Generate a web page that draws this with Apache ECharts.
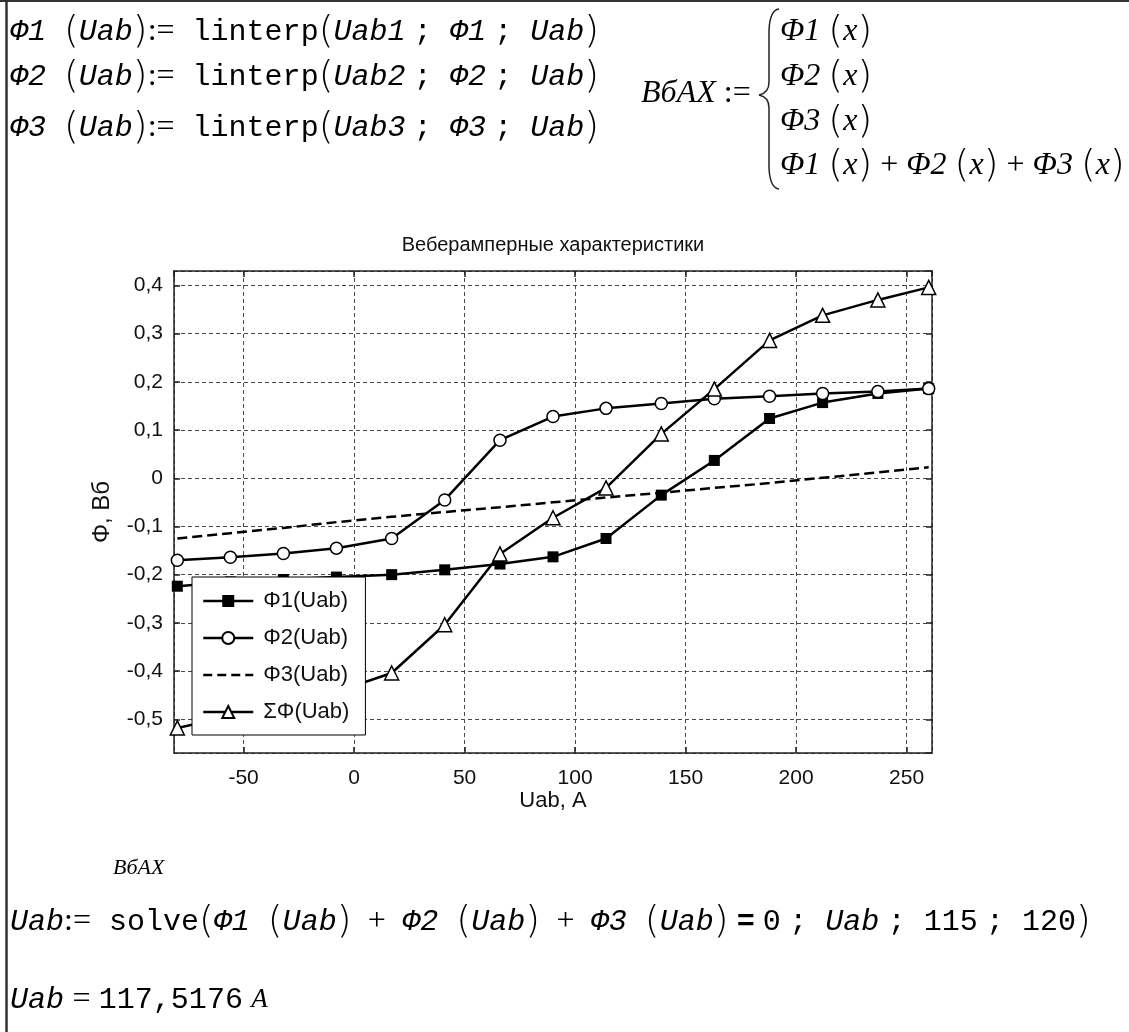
<!DOCTYPE html>
<html>
<head>
<meta charset="utf-8">
<script src="https://cdn.jsdelivr.net/npm/echarts@6/dist/echarts.min.js"></script>
<style>
  html, body { margin: 0; padding: 0; background: #fff; }
  #main { width: 1129px; height: 1032px; }
</style>
</head>
<body>
<div id="main"></div>
<script>
// значения
var uab = [-80, -56, -32, -8, 17, 41, 66, 90, 114, 139, 163, 188, 212, 237, 260]
var fi1 = [-0.224, -0.215, -0.21, -0.205, -0.2, -0.19, -0.178, -0.163, -0.125, -0.035, 0.037, 0.124, 0.157, 0.176, 0.186]
var fi2 = [-0.17, -0.164, -0.156, -0.145, -0.125, -0.045, 0.079, 0.128, 0.145, 0.155, 0.165, 0.17, 0.176, 0.18, 0.186]
var fi3 = [-0.125, -0.114, -0.103, -0.091, -0.08, -0.07, -0.06, -0.05, -0.04, -0.03, -0.02, -0.01, 0.001, 0.012, 0.023]
var fiSum = [-0.518, -0.494, -0.47, -0.443, -0.404, -0.304, -0.157, -0.082, -0.02, 0.092, 0.185, 0.286, 0.338, 0.37, 0.396]
var names = ['Φ1(Uab)', 'Φ2(Uab)', 'Φ3(Uab)', 'ΣΦ(Uab)']

function pairs(ys) {
  return uab.map(function (x, i) { return [x, ys[i]] })
}

var rich = {
  m: { fontFamily: 'Liberation Mono', fontSize: 30, color: '#111' },
  v: { fontFamily: 'Liberation Mono', fontStyle: 'italic', fontSize: 30, color: '#111' },
  p: { fontFamily: 'DejaVu Sans', fontSize: 38, fontWeight: 200, color: '#222' },
  s: { fontFamily: 'Liberation Serif', fontStyle: 'italic', fontSize: 32, color: '#111' },
  sA: { fontFamily: 'Liberation Serif', fontStyle: 'italic', fontSize: 27, color: '#111' },
  ss: { fontFamily: 'Liberation Serif', fontStyle: 'italic', fontSize: 22, color: '#111' },
  o: { fontFamily: 'Liberation Serif', fontSize: 32, color: '#111' },
  b: { fontFamily: 'Liberation Sans', fontWeight: 'bold', fontSize: 30, color: '#000' },
  sp: { fontFamily: 'Liberation Mono', fontSize: 14 }
}

function formula(x, y, text) {
  return {
    type: 'text', x: x, y: y,
    style: { text: text, rich: rich, verticalAlign: 'middle' }
  }
}

var defLine = function (n) {
  return '{v|Φ' + n + '}{m| }{p|(}{v|Uab}{p|)}{o|:=}{m| linterp}{p|(}{v|Uab' + n + '}{sp| }{m|; }{v|Φ' + n + '}{sp| }{m|; }{v|Uab}{p|)}'
}
var fx = function (n) { return '{s|Φ' + n + '}{o| }{p|(}{s|x}{p|)}' }
var plus = '{sp| }{o| + }{sp| }'

var axisStyle = { onZero: false, lineStyle: { color: '#222', width: 1.5 } }
var tickStyle = { inside: true, length: 6, lineStyle: { color: '#222', width: 1.5 } }
var gridLine = { show: true, lineStyle: { color: '#4a4a4a', width: 1, type: [4, 3] } }
var labelFont = { fontFamily: 'Liberation Sans', fontSize: 21, color: '#111' }

var myChart = echarts.init(document.getElementById('main'))
var option = {
  backgroundColor: '#fff',
  animation: false,
  grid: { left: 174, top: 271, width: 758, height: 482 },
  legend: {
    left: 192, top: 577,
    orient: 'vertical',
    backgroundColor: '#fff',
    borderColor: '#000', borderWidth: 1, borderRadius: 0,
    padding: [13, 16, 12, 10],
    itemWidth: 50, itemHeight: 15, itemGap: 15,
    lineStyle: { width: 2.5 },
    textStyle: { fontFamily: 'Liberation Sans', fontSize: 22, color: '#111', padding: [0, 0, 0, 5] },
    data: [
      names[0],
      names[1],
      { name: names[2], itemStyle: { color: 'rgba(0,0,0,0)', borderWidth: 0, opacity: 0 }, lineStyle: { width: 2.5, type: [9, 5] } },
      names[3]
    ]
  },
  xAxis: [
    {
      type: 'value', min: -81.5, max: 261.5, splitNumber: 7, position: 'bottom',
      name: 'Uab, A', nameLocation: 'middle', nameGap: 30,
      nameTextStyle: { fontFamily: 'Liberation Sans', fontSize: 22, color: '#111' },
      axisLine: axisStyle, axisTick: tickStyle, splitLine: gridLine,
      axisLabel: Object.assign({ margin: 15, showMinLabel: false, showMaxLabel: false }, labelFont)
    },
    {
      type: 'value', min: -81.5, max: 261.5, splitNumber: 7, position: 'top',
      axisLine: axisStyle, axisTick: tickStyle, splitLine: { show: false }, axisLabel: { show: false }
    }
  ],
  yAxis: [
    {
      type: 'value', min: -0.57, max: 0.43, splitNumber: 10, position: 'left',
      name: 'Φ, Вб', nameLocation: 'middle', nameGap: 60, nameRotate: 90,
      nameTextStyle: { fontFamily: 'Liberation Sans', fontSize: 24, color: '#111' },
      axisLine: axisStyle, axisTick: tickStyle, splitLine: gridLine,
      axisLabel: Object.assign({
        margin: 11, showMinLabel: false, showMaxLabel: false,
        formatter: function (v) { return (Math.round(v * 10) / 10).toString().replace('.', ',') }
      }, labelFont)
    },
    {
      type: 'value', min: -0.57, max: 0.43, splitNumber: 10, position: 'right',
      axisLine: axisStyle, axisTick: tickStyle, splitLine: { show: false }, axisLabel: { show: false }
    }
  ],
  series: [
    {
      name: names[0], type: 'line', data: pairs(fi1),
      symbol: 'rect', symbolSize: 11,
      itemStyle: { color: '#000' }, lineStyle: { color: '#000', width: 2.5 }
    },
    {
      name: names[1], type: 'line', data: pairs(fi2),
      symbol: 'circle', symbolSize: 12,
      itemStyle: { color: '#fff', borderColor: '#000', borderWidth: 1.5 }, lineStyle: { color: '#000', width: 2.5 }
    },
    {
      name: names[2], type: 'line', data: pairs(fi3),
      symbol: 'none', itemStyle: { color: '#000' },
      lineStyle: { color: '#000', width: 2.5, type: [10, 5] }
    },
    {
      name: names[3], type: 'line', data: pairs(fiSum),
      symbol: 'triangle', symbolSize: 14,
      itemStyle: { color: '#fff', borderColor: '#000', borderWidth: 1.5 }, lineStyle: { color: '#000', width: 2.5 }
    }
  ],
  graphic: [
    { type: 'line', shape: { x1: 0, y1: 1, x2: 1129, y2: 1 }, style: { stroke: '#333', lineWidth: 2 } },
    { type: 'line', shape: { x1: 6.5, y1: 0, x2: 6.5, y2: 1032 }, style: { stroke: '#333', lineWidth: 2.5 } },
    formula(10, 32, defLine(1)),
    formula(10, 77, defLine(2)),
    formula(10, 128, defLine(3)),
    formula(641, 94, '{s|BбAX}{o| :=}'),
    // фигурная скобка
    { type: 'bezierCurve', shape: { x1: 779, y1: 9, x2: 769, y2: 30, cpx1: 770, cpy1: 10 }, style: { stroke: '#222', lineWidth: 1.5, fill: null } },
    { type: 'line', shape: { x1: 769, y1: 30, x2: 769, y2: 82 }, style: { stroke: '#222', lineWidth: 1.5 } },
    { type: 'bezierCurve', shape: { x1: 769, y1: 82, x2: 759, y2: 95, cpx1: 769, cpy1: 93 }, style: { stroke: '#222', lineWidth: 1.5, fill: null } },
    { type: 'bezierCurve', shape: { x1: 759, y1: 95, x2: 769, y2: 108, cpx1: 769, cpy1: 97 }, style: { stroke: '#222', lineWidth: 1.5, fill: null } },
    { type: 'line', shape: { x1: 769, y1: 108, x2: 769, y2: 168 }, style: { stroke: '#222', lineWidth: 1.5 } },
    { type: 'bezierCurve', shape: { x1: 769, y1: 168, x2: 779, y2: 189, cpx1: 770, cpy1: 188 }, style: { stroke: '#222', lineWidth: 1.5, fill: null } },
    formula(780, 32, fx(1)),
    formula(780, 77, fx(2)),
    formula(780, 122, fx(3)),
    formula(780, 166, fx(1) + '{o| + }' + fx(2) + '{o| + }' + fx(3)),
    {
      type: 'text', x: 553, y: 245,
      style: { text: 'Веберамперные характеристики', fontFamily: 'Liberation Sans', fontSize: 20, fill: '#111', align: 'center', verticalAlign: 'middle' }
    },
    formula(113, 868, '{ss|BбAX}'),
    formula(10, 922, '{v|Uab}{o|:=}{m| solve}{p|(}{v|Φ1}{m| }{p|(}{v|Uab}{p|)}' + plus + '{v|Φ2}{m| }{p|(}{v|Uab}{p|)}' + plus +
      '{v|Φ3}{m| }{p|(}{v|Uab}{p|)}{sp| }{b|=}{sp| }{m|0}{sp| }{m|; }{v|Uab}{sp| }{m|; 115}{sp| }{m|; 120}{p|)}'),
    formula(10, 1000, '{v|Uab}{sp| }{o|=}{sp| }{m|117,5176}{sp| }{sA|A}')
  ]
}
myChart.setOption(option)
</script>
</body>
</html>
